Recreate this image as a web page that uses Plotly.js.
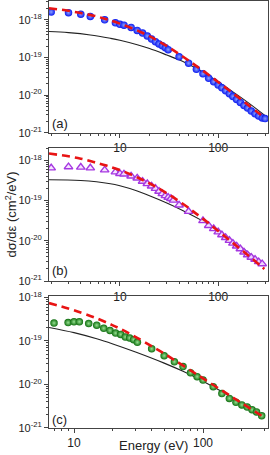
<!DOCTYPE html>
<html><head><meta charset="utf-8">
<script src="https://cdn.plot.ly/plotly-3.0.1.min.js"></script>
<style>html,body{margin:0;padding:0;background:#fff}#plot{width:270px;height:455px}</style>
</head><body><div id="plot"></div>
<script>
// ---- Panel (a) ----
const a_exp_E = [2,3,4,5,7,9,10,11,13,15,17,19,21,23,25,27,29,31,40,50,60,70,80,90,100,109,119,130,141,154,168,183,199,217,237,258,281,300];
const a_exp_Y = [1.62e-18,1.55e-18,1.41e-18,1.23e-18,1.00e-18,8.32e-19,7.59e-19,7.24e-19,6.31e-19,5.25e-19,4.47e-19,3.72e-19,3.09e-19,2.63e-19,2.29e-19,2.04e-19,1.82e-19,1.62e-19,1.05e-19,7.08e-20,4.90e-20,3.72e-20,2.82e-20,2.29e-20,1.86e-20,1.58e-20,1.32e-20,1.10e-20,9.33e-21,7.76e-21,6.46e-21,5.37e-21,4.57e-21,3.80e-21,3.24e-21,2.82e-21,2.51e-21,2.40e-21];
const a_dash_E = [1.9,3,4,5.4,7,10,16.5,23.5,32,40,50,61,81,106,152,206,295];
const a_dash_Y = [2.04e-18,1.74e-18,1.51e-18,1.29e-18,1.07e-18,7.94e-19,4.68e-19,2.95e-19,1.82e-19,1.24e-19,8.32e-20,5.75e-20,3.39e-20,2.00e-20,9.77e-21,5.31e-21,2.57e-21];
const a_solid_E = [1.9,3,5,8,10,15,20,30,40,50,70,100,150,200,300];
const a_solid_Y = [4.90e-19,4.57e-19,3.98e-19,3.24e-19,2.88e-19,2.19e-19,1.74e-19,1.17e-19,8.71e-20,6.61e-20,4.07e-20,2.29e-20,1.10e-20,6.46e-21,2.88e-21];

// ---- Panel (b) ----
const b_exp_E = [2,3,4,5,7,9,10,11,13,15,17,19,21,23,25,27,29,31,33,35,40,50,70,80,90,100,109,119,130,141,154,168,183,199,217,237,258,280];
const b_exp_Y = [6.46e-19,6.92e-19,6.76e-19,6.46e-19,5.75e-19,5.13e-19,4.68e-19,4.57e-19,4.07e-19,3.63e-19,3.02e-19,2.63e-19,2.29e-19,2.00e-19,1.70e-19,1.48e-19,1.32e-19,1.20e-19,1.12e-19,1.02e-19,7.76e-20,5.37e-20,3.16e-20,2.40e-20,2.00e-20,1.66e-20,1.41e-20,1.20e-20,1.02e-20,8.71e-21,7.41e-21,6.31e-21,5.25e-21,4.47e-21,3.89e-21,3.47e-21,3.02e-21,2.69e-21];
const b_dash_E = [1.9,3,4,5.4,7.3,11,16.5,22.5,32,47,60,78,103,141,198,270,295];
const b_dash_Y = [1.48e-18,1.26e-18,1.10e-18,9.12e-19,7.41e-19,5.25e-19,3.39e-19,2.29e-19,1.38e-19,7.33e-20,4.68e-20,2.88e-20,1.66e-20,8.91e-21,4.52e-21,2.40e-21,2.00e-21];
const b_solid_E = [1.9,4,8,10,15,20,30,44,70,100,150,200,300];
const b_solid_Y = [3.31e-19,3.16e-19,2.63e-19,2.34e-19,1.74e-19,1.32e-19,8.71e-20,5.62e-20,3.09e-20,1.82e-20,8.91e-21,5.25e-21,2.40e-21];

// ---- Panel (c) ----
const c_exp_E = [7,9,10,11,13,15,17,19,21,23,25,27,29,31,40,50,60,70,80,90,100,120,140,160,180,200,220,240,260,285];
const c_exp_Y = [2.57e-19,2.63e-19,2.75e-19,2.75e-19,2.51e-19,2.29e-19,1.95e-19,1.74e-19,1.51e-19,1.41e-19,1.23e-19,1.17e-19,1.07e-19,9.33e-20,6.61e-20,4.57e-20,3.31e-20,2.57e-20,1.86e-20,1.51e-20,1.26e-20,8.91e-21,6.17e-21,4.79e-21,3.89e-21,3.39e-21,3.02e-21,2.63e-21,2.34e-21,1.91e-21];
const c_dash_E = [6.4,8,10,14.5,19.6,22.7,28.8,41,50,60,80,100,150,200,300];
const c_dash_Y = [7.41e-19,6.17e-19,5.07e-19,3.43e-19,2.34e-19,1.91e-19,1.32e-19,7.24e-20,5.13e-20,3.63e-20,2.11e-20,1.38e-20,6.38e-21,3.72e-21,1.72e-21];
const c_solid_E = [6.4,10,15,20,30,50,70,100,150,200,300];
const c_solid_Y = [2.04e-19,1.55e-19,1.12e-19,8.51e-20,5.56e-20,3.09e-20,2.00e-20,1.19e-20,6.10e-21,3.72e-21,1.78e-21];

const yTickVals = [1e-21,1e-20,1e-19,1e-18];
const yTickText = ['10<sup>-21</sup>','10<sup>-20</sup>','10<sup>-19</sup>','10<sup>-18</sup>'];
const xTickVals = [10,100];
const xTickText = ['10','100'];
const panelLabels = ['(a)','(b)','(c)'];

const FONT = 'Liberation Sans, Arial, sans-serif';
const DASH = {color:'rgb(232,20,20)', width:2.6, dash:'8px,5px', shape:'spline', smoothing:1};
const SOLID = {color:'#222', width:1.1, shape:'spline', smoothing:1};

function lineTrace(E, Y, ax, line){ return {x:E, y:Y, xaxis:'x'+ax, yaxis:'y'+ax, mode:'lines', line:line, hoverinfo:'skip'}; }

const traces = [
  lineTrace(a_solid_E, a_solid_Y, '', SOLID),
  {x:a_exp_E, y:a_exp_Y, xaxis:'x', yaxis:'y', mode:'markers',
   marker:{symbol:'circle', size:7.5, color:'rgb(10,25,240)', gradient:{type:'radial', color:'rgb(140,160,255)'}, line:{width:0}}},
  lineTrace(a_dash_E, a_dash_Y, '', DASH),

  lineTrace(b_solid_E, b_solid_Y, '2', SOLID),
  {x:b_exp_E, y:b_exp_Y, xaxis:'x2', yaxis:'y2', mode:'markers',
   marker:{symbol:'triangle-up', size:7.5, color:'rgba(245,225,255,0.9)', line:{width:1.4, color:'rgb(165,55,225)'}}},
  lineTrace(b_dash_E, b_dash_Y, '2', DASH),

  lineTrace(c_solid_E, c_solid_Y, '3', SOLID),
  {x:c_exp_E, y:c_exp_Y, xaxis:'x3', yaxis:'y3', mode:'markers',
   marker:{symbol:'circle', size:7.5, color:'rgb(15,110,15)', gradient:{type:'radial', color:'rgb(150,225,145)'}, line:{width:0}}},
  lineTrace(c_dash_E, c_dash_Y, '3', DASH)
];

function xax(anchor, range){
  return {type:'log', range:range, anchor:anchor, domain:[0,1],
    tickmode:'array', tickvals:xTickVals, ticktext:xTickText,
    ticks:'outside', ticklen:4, tickwidth:1, tickcolor:'#444',
    minor:{ticks:'outside', ticklen:2, tickcolor:'#444', dtick:'D1'},
    showline:true, linecolor:'#444', linewidth:1, mirror:true,
    showgrid:false, zeroline:false, tickfont:{family:FONT, size:12, color:'#222'}};
}
function yax(anchor, domain, range){
  return {type:'log', range:range, anchor:anchor, domain:domain,
    tickmode:'array', tickvals:yTickVals, ticktext:yTickText,
    ticks:'outside', ticklen:4, tickwidth:1, tickcolor:'#444',
    minor:{ticks:'outside', ticklen:2, tickcolor:'#444', dtick:'D1'},
    showline:true, linecolor:'#444', linewidth:1, mirror:true,
    showgrid:false, zeroline:false, tickfont:{family:FONT, size:11, color:'#222'}};
}

const layout = {
  width:270, height:455, margin:{l:49, r:2, t:1, b:27},
  paper_bgcolor:'#fff', plot_bgcolor:'#fff', showlegend:false,
  font:{family:FONT, color:'#222'},
  xaxis: xax('y', [Math.log10(1.9), Math.log10(321)]),
  yaxis: yax('x', [0.691, 1], [-21, -17.5]),
  xaxis2: xax('y2', [Math.log10(1.9), Math.log10(321)]),
  yaxis2: yax('x2', [0.344, 0.656], [-21, -17.69]),
  xaxis3: xax('y3', [Math.log10(6.4), Math.log10(319)]),
  yaxis3: yax('x3', [0, 0.309], [-21, -17.97]),
  annotations:[
    {text:panelLabels[0], xref:'paper', yref:'paper', x:0.004, y:0.712, xanchor:'left', yanchor:'middle', showarrow:false, font:{family:FONT, size:13, color:'#222'}},
    {text:panelLabels[1], xref:'paper', yref:'paper', x:0.004, y:0.370, xanchor:'left', yanchor:'middle', showarrow:false, font:{family:FONT, size:13, color:'#222'}},
    {text:panelLabels[2], xref:'paper', yref:'paper', x:0.004, y:0.019, xanchor:'left', yanchor:'middle', showarrow:false, font:{family:FONT, size:13, color:'#222'}},
    {text:'Energy (eV)', xref:'paper', yref:'paper', x:0.475, y:-0.042, xanchor:'center', yanchor:'middle', showarrow:false, font:{family:FONT, size:13, color:'#222'}},
    {text:'dσ/dε (cm<sup>2</sup>/eV)', xref:'paper', yref:'paper', x:-0.178, y:0.5, xanchor:'center', yanchor:'middle', textangle:-90, showarrow:false, font:{family:FONT, size:13, color:'#222'}}
  ]
};

Plotly.newPlot('plot', traces, layout, {staticPlot:true, displayModeBar:false});
</script></body></html>
